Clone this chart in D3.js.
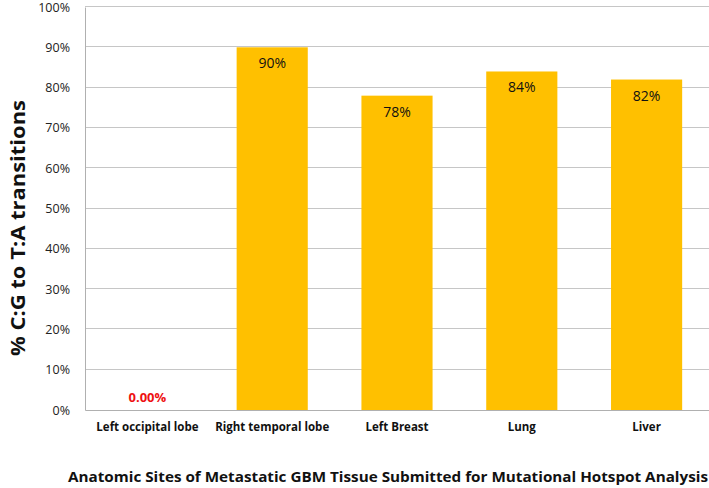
<!DOCTYPE html>
<html>
<head>
<meta charset="utf-8">
<script src="https://cdn.jsdelivr.net/npm/d3@7"></script>
<style>
  body { margin: 0; background: #fff; }
  svg { display: block; font-family: "Open Sans", "Noto Sans", sans-serif; }
</style>
</head>
<body>
<div id="chart"></div>
<script>
var sites = ['Left occipital lobe', 'Right temporal lobe', 'Left Breast', 'Lung', 'Liver'];
var transitions = [0, 0.90, 0.78, 0.84, 0.82];
var valueLabels = ['0.00%', '90%', '78%', '84%', '82%'];
var yTicks = [0, 0.1, 0.2, 0.3, 0.4, 0.5, 0.6, 0.7, 0.8, 0.9, 1.0];

var width = 709;
var height = 488;
var margin = {top: 7, right: 0, bottom: 78, left: 85};
var plotW = width - margin.left - margin.right;
var plotH = height - margin.top - margin.bottom;

var svg = d3.select('#chart').append('svg')
  .attr('width', width)
  .attr('height', height);

var g = svg.append('g')
  .attr('transform', 'translate(' + margin.left + ',' + margin.top + ')');

var x = d3.scaleBand()
  .domain(sites)
  .range([0, plotW])
  .paddingInner(0.43)
  .paddingOuter(0.215);

var y = d3.scaleLinear()
  .domain([0, 1])
  .range([plotH, 0]);

// gridlines
g.selectAll('.grid')
  .data(yTicks.slice(1))
  .enter()
  .append('line')
  .attr('class', 'grid')
  .attr('x1', 0)
  .attr('x2', plotW)
  .attr('y1', function (d) { return Math.round(y(d)) - 0.5; })
  .attr('y2', function (d) { return Math.round(y(d)) - 0.5; })
  .attr('stroke', '#c6c6c6')
  .attr('stroke-width', 1);

// y axis
var yAxis = d3.axisLeft(y)
  .tickValues(yTicks)
  .tickFormat(d3.format('.0%'))
  .tickSize(0)
  .tickPadding(15);

var yg = g.append('g').call(yAxis);
yg.select('.domain').attr('stroke', '#b0b0b0');
yg.selectAll('text')
  .attr('font-size', 12.5)
  .attr('fill', '#222')
  .attr('font-family', '"Open Sans", sans-serif');

// bars
g.selectAll('.bar')
  .data(transitions)
  .enter()
  .append('rect')
  .attr('class', 'bar')
  .attr('x', function (d, i) { return x(sites[i]); })
  .attr('width', x.bandwidth())
  .attr('y', function (d) { return y(d); })
  .attr('height', function (d) { return plotH - y(d); })
  .attr('fill', '#ffc000');

// x axis
var xAxis = d3.axisBottom(x).tickSize(0).tickPadding(13);
var xg = g.append('g')
  .attr('transform', 'translate(0,' + plotH + ')')
  .call(xAxis);
xg.select('.domain').attr('stroke', '#b0b0b0');
xg.selectAll('text')
  .attr('font-size', 11.5)
  .attr('font-weight', 'bold')
  .attr('fill', '#111')
  .attr('font-family', '"Open Sans", sans-serif');

// value labels
g.selectAll('.value')
  .data(transitions)
  .enter()
  .append('text')
  .attr('class', 'value')
  .attr('x', function (d, i) { return x(sites[i]) + x.bandwidth() / 2; })
  .attr('y', function (d) { return d > 0 ? y(d) + 21 : plotH - 8; })
  .attr('text-anchor', 'middle')
  .attr('font-size', function (d) { return d > 0 ? 14 : 13; })
  .attr('font-weight', function (d) { return d > 0 ? 'normal' : 'bold'; })
  .attr('fill', function (d) { return d > 0 ? '#111' : '#ee1111'; })
  .text(function (d, i) { return valueLabels[i]; });

// axis titles
svg.append('text')
  .attr('x', 388)
  .attr('y', 482)
  .attr('text-anchor', 'middle')
  .attr('font-size', 15)
  .attr('font-weight', 'bold')
  .attr('fill', '#111')
  .attr('textLength', 640)
  .attr('lengthAdjust', 'spacingAndGlyphs')
  .text('Anatomic Sites of Metastatic GBM Tissue Submitted for Mutational Hotspot Analysis');

svg.append('text')
  .attr('transform', 'translate(25,228) rotate(-90)')
  .attr('text-anchor', 'middle')
  .attr('font-size', 19)
  .attr('font-weight', 'bold')
  .attr('fill', '#111')
  .attr('textLength', 256)
  .attr('lengthAdjust', 'spacingAndGlyphs')
  .text('% C:G to T:A transitions');
</script>
</body>
</html>
